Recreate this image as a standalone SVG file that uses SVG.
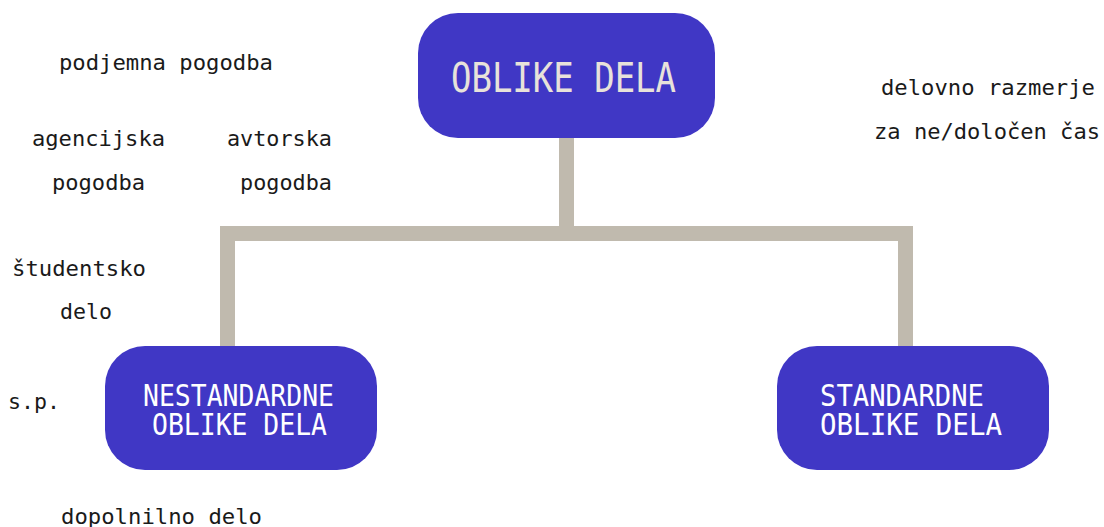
<svg xmlns="http://www.w3.org/2000/svg" width="1104" height="527" viewBox="0 0 1104 527">
  <style>
    .node { fill: #4037C5; }
    .conn { fill: none; stroke: #C0BAAE; stroke-width: 15; stroke-linejoin: miter; stroke-linecap: butt; }
    .lbl { font-family: "DejaVu Sans Mono", "Liberation Mono", monospace; font-size: 21px; fill: #1a1a1a; }
    .ntxt { font-family: "DejaVu Sans Mono", "Liberation Mono", monospace; fill: #FFFFFF; }
    .ttxt { font-family: "DejaVu Sans Mono", "Liberation Mono", monospace; fill: #E8E2DA; }
  </style>
  <rect width="1104" height="527" fill="#FFFFFF"/>
  <g id="connectors">
    <path class="conn" d="M566.5 138 V233.5"/>
    <path class="conn" d="M227.5 346 V233.5 H905.5 V346"/>
  </g>
  <g id="node-oblike-dela">
    <rect class="node" x="418" y="13" width="297" height="125" rx="40" ry="40"/>
    <text class="ttxt" x="451" y="92" font-size="41" textLength="225" lengthAdjust="spacingAndGlyphs">OBLIKE DELA</text>
  </g>
  <g id="node-nestandardne">
    <rect class="node" x="105" y="346" width="272" height="124" rx="40" ry="40"/>
    <text class="ntxt" font-size="31"><tspan x="143" y="406" textLength="191" lengthAdjust="spacingAndGlyphs">NESTANDARDNE</tspan><tspan x="152" y="435" textLength="175" lengthAdjust="spacingAndGlyphs">OBLIKE DELA</tspan></text>
  </g>
  <g id="node-standardne">
    <rect class="node" x="777" y="346" width="272" height="124" rx="40" ry="40"/>
    <text class="ntxt" font-size="31"><tspan x="820" y="406" textLength="164" lengthAdjust="spacingAndGlyphs">STANDARDNE</tspan><tspan x="820" y="435" textLength="182" lengthAdjust="spacingAndGlyphs">OBLIKE DELA</tspan></text>
  </g>
  <g id="labels">
    <text class="lbl" x="59" y="70" textLength="214" lengthAdjust="spacingAndGlyphs">podjemna pogodba</text>
    <text class="lbl" x="32" y="146" textLength="133" lengthAdjust="spacingAndGlyphs">agencijska</text>
    <text class="lbl" x="52" y="190" textLength="93" lengthAdjust="spacingAndGlyphs">pogodba</text>
    <text class="lbl" x="227" y="146" textLength="105" lengthAdjust="spacingAndGlyphs">avtorska</text>
    <text class="lbl" x="240" y="190" textLength="92" lengthAdjust="spacingAndGlyphs">pogodba</text>
    <text class="lbl" x="881" y="95" textLength="214" lengthAdjust="spacingAndGlyphs">delovno razmerje</text>
    <text class="lbl" x="874" y="139" textLength="226" lengthAdjust="spacingAndGlyphs">za ne/določen čas</text>
    <text class="lbl" x="12" y="276" textLength="134" lengthAdjust="spacingAndGlyphs">študentsko</text>
    <text class="lbl" x="60" y="319" textLength="52" lengthAdjust="spacingAndGlyphs">delo</text>
    <text class="lbl" x="8" y="409" textLength="52" lengthAdjust="spacingAndGlyphs">s.p.</text>
    <text class="lbl" x="61" y="524" textLength="201" lengthAdjust="spacingAndGlyphs">dopolnilno delo</text>
  </g>
</svg>
